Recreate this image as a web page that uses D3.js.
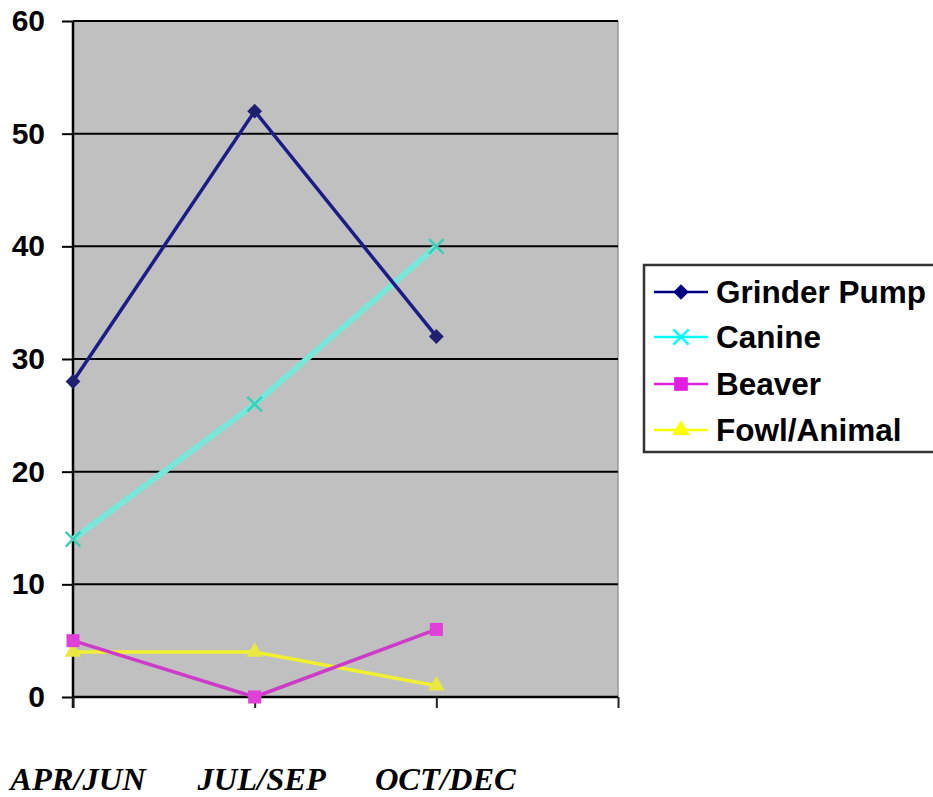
<!DOCTYPE html>
<html><head><meta charset="utf-8">
<script src="https://cdn.jsdelivr.net/npm/d3@7"></script>
<style>html,body{margin:0;padding:0;background:#fff;}svg{display:block;}</style>
</head><body>
<svg id="chart" width="933" height="797"></svg>
<script>
const categories = ["APR/JUN", "JUL/SEP", "OCT/DEC"];
const grinderPump = [28, 52, 32];
const canine = [14, 26, 40];
const beaver = [5, 0, 6];
const fowlAnimal = [4, 4, 1];
const yTicks = [0, 10, 20, 30, 40, 50, 60];
const seriesNames = ["Grinder Pump", "Canine", "Beaver", "Fowl/Animal"];

const series = [
  {name: seriesNames[0], values: grinderPump, color: "#000080", lineColor: "#1c1c88", width: 3.5, marker: "diamond"},
  {name: seriesNames[1], values: canine, color: "#00ffff", lineColor: "#78e6d8", width: 6, marker: "x"},
  {name: seriesNames[2], values: beaver, color: "#e020e0", lineColor: "#cc3cc8", width: 3.5, marker: "square"},
  {name: seriesNames[3], values: fowlAnimal, color: "#ffff00", lineColor: "#f0f030", width: 3.5, marker: "triangle"}
];

const svg = d3.select("#chart");
const pLeft = 73, pRight = 618, pTop = 21, pBottom = 697;
const x = d3.scaleLinear().domain([0, 3]).range([pLeft, pRight]);
const y = d3.scaleLinear().domain([0, 60]).range([pBottom, pTop]);

// plot background
svg.append("rect").attr("x", pLeft).attr("y", pTop).attr("width", pRight - pLeft).attr("height", pBottom - pTop).attr("fill", "#c0c0c0");
svg.append("line").attr("x1", pRight).attr("x2", pRight).attr("y1", pTop).attr("y2", pBottom).attr("stroke", "#9a9a9a").attr("stroke-width", 1.5);

// gridlines
svg.append("g").selectAll("line").data(yTicks).join("line")
  .attr("x1", pLeft).attr("x2", pRight)
  .attr("y1", d => y(d)).attr("y2", d => y(d))
  .attr("stroke", "#000").attr("stroke-width", 2);

// y axis
const yAxis = d3.axisLeft(y).tickValues(yTicks).tickSize(11).tickPadding(17);
const gy = svg.append("g").attr("transform", `translate(${pLeft},0)`).call(yAxis);
gy.select(".domain").attr("stroke", "#000").attr("stroke-width", 2.5).attr("d", `M0,${pTop}V${pBottom + 11}`);
gy.selectAll(".tick line").attr("stroke", "#000").attr("stroke-width", 2);
gy.selectAll("text").attr("font-family", "Arial, 'Liberation Sans', sans-serif").attr("font-weight", "bold").attr("font-size", 30).attr("fill", "#000");

// x axis
const xAxis = d3.axisBottom(x).tickValues([0, 1, 2, 3]).tickSize(11).tickFormat("");
const gx = svg.append("g").attr("transform", `translate(0,${pBottom})`).call(xAxis);
gx.select(".domain").attr("stroke", "#000").attr("stroke-width", 2.5).attr("d", `M${pLeft},0H${pRight}`);
gx.selectAll(".tick line").attr("stroke", "#222").attr("stroke-width", 2);

// category labels
svg.append("g").selectAll("text").data(categories).join("text")
  .attr("x", (d, i) => x(i) + 5 + i * 2).attr("y", 790)
  .attr("text-anchor", "middle")
  .attr("font-family", "'Times New Roman', 'Liberation Serif', serif")
  .attr("font-weight", "bold").attr("font-style", "italic").attr("font-size", 32.5)
  .text(d => d);

const line = d3.line().x((d, i) => x(i)).y(d => y(d));

function drawMarker(g, type, cx, cy, color, scale) {
  const s = scale || 1;
  if (type === "x") {
    g.append("path").attr("d", d3.symbol(d3.symbolTimes, 140 * s)()).attr("transform", `translate(${cx},${cy})`)
      .attr("fill", "none").attr("stroke", color).attr("stroke-width", 2.5);
    return;
  }
  let sym = d3.symbolSquare, size = 110, rot = 45;
  if (type === "square") { sym = d3.symbolSquare; size = 170; rot = 0; }
  else if (type === "triangle") { sym = d3.symbolTriangle; size = 120; rot = 0; }
  g.append("path").attr("d", d3.symbol(sym, size * s)()).attr("transform", `translate(${cx},${cy}) rotate(${rot})`).attr("fill", color);
}

const markerFill = ["#202070", "#3ccfb8", "#e040d8", "#e8e840"];
const order = [3, 2, 1, 0];
order.forEach(k => {
  const s = series[k];
  const g = svg.append("g");
  g.append("path").datum(s.values).attr("d", line).attr("fill", "none")
    .attr("stroke", s.lineColor).attr("stroke-width", s.width).attr("stroke-linejoin", "round");
  s.values.forEach((v, i) => drawMarker(g, s.marker, x(i), y(v), markerFill[k], 1));
});

// legend
const lg = svg.append("g");
lg.append("rect").attr("x", 644).attr("y", 265).attr("width", 300).attr("height", 187)
  .attr("fill", "#fff").attr("stroke", "#333").attr("stroke-width", 2.5);
const rowY = [292, 337, 384, 430];
series.forEach((s, i) => {
  const ry = rowY[i];
  lg.append("line").attr("x1", 654).attr("x2", 708).attr("y1", ry).attr("y2", ry)
    .attr("stroke", s.color).attr("stroke-width", 2.5);
  drawMarker(lg, s.marker, 681, ry, s.color, 1.1);
  lg.append("text").attr("x", 716).attr("y", ry + 11)
    .attr("font-family", "Arial, 'Liberation Sans', sans-serif").attr("font-weight", "bold").attr("font-size", 31.5)
    .attr("fill", "#000").text(s.name);
});
</script>
</body></html>
